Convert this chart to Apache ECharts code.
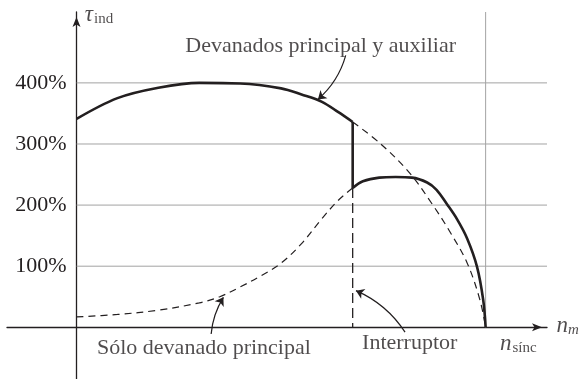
<!DOCTYPE html>
<html>
<head>
<meta charset="utf-8">
<script src="https://cdn.jsdelivr.net/npm/echarts@6/dist/echarts.min.js"></script>
<style>html,body{margin:0;padding:0;background:#fff;}#c{width:579px;height:379px;}</style>
</head>
<body>
<div id="c"></div>
<script>
// ---- data (speed as % of n_sync, torque as % of rated) ----
const bothWindingsX = [0, 10, 20, 30, 40, 50, 55, 60, 64, 67.5];
const bothWindingsY = [341, 375, 392, 400, 399, 391, 381, 369, 352, 336];
const bothWindingsContX = [67.5, 74.2, 81.5, 87.1, 91.3, 95.5, 98.6, 100];
const bothWindingsContY = [336, 301, 252, 200, 156, 105, 45, 0];
const mainOnlyStartX = [0, 10, 20, 30, 35, 40, 45, 50, 55, 60, 64, 67.5];
const mainOnlyStartY = [17, 21, 28, 40, 50, 66, 84, 105, 137, 178, 208, 228];
const mainOnlyRunX = [67.5, 70, 74, 78, 82, 85.7, 88, 90.6, 93, 95.5, 97.9, 99.4, 100];
const mainOnlyRunY = [228, 239, 245, 246, 245, 237, 225, 201, 177, 145, 99, 45, 0];
const switchSpeed = 67.5;
const syncSpeed = 100;
const yTickValues = [100, 200, 300, 400];
const yTickLabels = ['100%', '200%', '300%', '400%'];

const INK = '#231f20';
const GRID = '#a3a3a3';
const FONT = '"Liberation Serif", "Times New Roman", serif';
const zip = (xs, ys) => xs.map((x, i) => [x, ys[i]]);

const X_MIN = -17, X_MAX = 115, Y_MIN = -100, Y_MAX = 516;

const chart = echarts.init(document.getElementById('c'), null, {renderer: 'canvas'});

function plainLine(points, color, width, z) {
  return {
    type: 'line', data: points, silent: true, showSymbol: false, z: z,
    lineStyle: {color: color, width: width}
  };
}

function textPoint(x, y, text, extra) {
  return {
    value: [x, y],
    label: Object.assign({
      show: true, formatter: text, position: [0, 0], align: 'left', verticalAlign: 'middle',
      color: INK, fontFamily: FONT, fontSize: 22
    }, extra || {})
  };
}

const subRich = {
  i: {fontFamily: FONT, fontStyle: 'italic', fontSize: 23, color: INK},
  s: {fontFamily: FONT, fontSize: 15, color: INK, padding: [9, 0, 0, 1]},
  si: {fontFamily: FONT, fontStyle: 'italic', fontSize: 15, color: INK, padding: [9, 0, 0, 0]}
};

// light grid lines (drawn only to the right of the torque axis)
const series = yTickValues.map(v => plainLine([[0, v], [X_MAX, v]], GRID, 1, 1));
series.push(plainLine([[syncSpeed, 0], [syncSpeed, Y_MAX]], GRID, 1, 1));

series.push(
  {
    name: 'Devanados principal y auxiliar', type: 'line', data: zip(bothWindingsX, bothWindingsY),
    smooth: 0.35, showSymbol: false, lineStyle: {color: INK, width: 2.6}, z: 5
  },
  {
    name: 'switch drop', type: 'line',
    data: [[switchSpeed, bothWindingsY[bothWindingsY.length - 1]], [switchSpeed, mainOnlyStartY[mainOnlyStartY.length - 1]]],
    showSymbol: false, lineStyle: {color: INK, width: 2.6}, z: 5
  },
  {
    name: 'Sólo devanado principal (run)', type: 'line', data: zip(mainOnlyRunX, mainOnlyRunY),
    smooth: 0.35, showSymbol: false, lineStyle: {color: INK, width: 2.6}, z: 5
  },
  {
    name: 'Devanados (cont.)', type: 'line', data: zip(bothWindingsContX, bothWindingsContY),
    smooth: 0.35, showSymbol: false, lineStyle: {color: INK, width: 1.2, type: [7, 5]}, z: 4
  },
  {
    name: 'Sólo devanado principal', type: 'line', data: zip(mainOnlyStartX, mainOnlyStartY),
    smooth: 0.35, showSymbol: false, lineStyle: {color: INK, width: 1.2, type: [7, 5]}, z: 4
  },
  {
    name: 'Interruptor line', type: 'line', data: [[switchSpeed, mainOnlyStartY[mainOnlyStartY.length - 1]], [switchSpeed, 0]],
    showSymbol: false, lineStyle: {color: INK, width: 1.3, type: [10, 5]}, z: 4
  },
  {
    type: 'lines', coordinateSystem: 'cartesian2d', silent: true, z: 6,
    symbol: ['none', 'arrow'], symbolSize: 8,
    lineStyle: {color: INK, width: 1.2, opacity: 1},
    data: [
      {coords: [[65.8, 445], [59.0, 373]], lineStyle: {curveness: 0.15}},
      {coords: [[32.9, -11], [35.9, 49]], lineStyle: {curveness: 0.12}},
      {coords: [[80.3, -8], [68.3, 60]], lineStyle: {curveness: -0.15}}
    ]
  },
  {
    type: 'scatter', symbolSize: 0, clip: false, silent: true, z: 7,
    data: [
      textPoint(26.6, 460, 'Devanados principal y auxiliar'),
      textPoint(5.0, -35, 'Sólo devanado principal'),
      textPoint(69.8, -26, 'Interruptor'),
      textPoint(103.5, -27, '{i|n}{s|sínc}', {rich: subRich}),
      textPoint(117.3, 3, '{i|n}{si|m}', {rich: subRich}),
      textPoint(2.0, 511, '{i|τ}{s|ind}', {rich: subRich})
    ]
  }
);

const option = {
  animation: false,
  backgroundColor: '#fff',
  grid: {left: 7, width: 540, top: 12, height: 376.4, containLabel: false, outerBoundsMode: 'none'},
  xAxis: {
    type: 'value', min: X_MIN, max: X_MAX,
    axisLine: {onZero: true, symbol: ['none', 'arrow'], symbolSize: [6, 10], symbolOffset: [0, -5], lineStyle: {color: INK, width: 1.3}},
    axisTick: {show: false}, axisLabel: {show: false}, splitLine: {show: false}
  },
  yAxis: {
    type: 'value', min: Y_MIN, max: Y_MAX, interval: 100, position: 'left', offset: -69.5,
    axisLine: {show: true, onZero: false, symbol: ['none', 'arrow'], symbolSize: [6, 10], symbolOffset: [0, -5], lineStyle: {color: INK, width: 1.3}},
    axisTick: {show: false}, splitLine: {show: false},
    axisLabel: {
      show: true, margin: 10, color: INK, fontFamily: FONT, fontSize: 22,
      formatter: v => { const k = yTickValues.indexOf(v); return k >= 0 ? yTickLabels[k] : ''; }
    }
  },
  series: series
};
chart.setOption(option);
</script>
</body>
</html>
